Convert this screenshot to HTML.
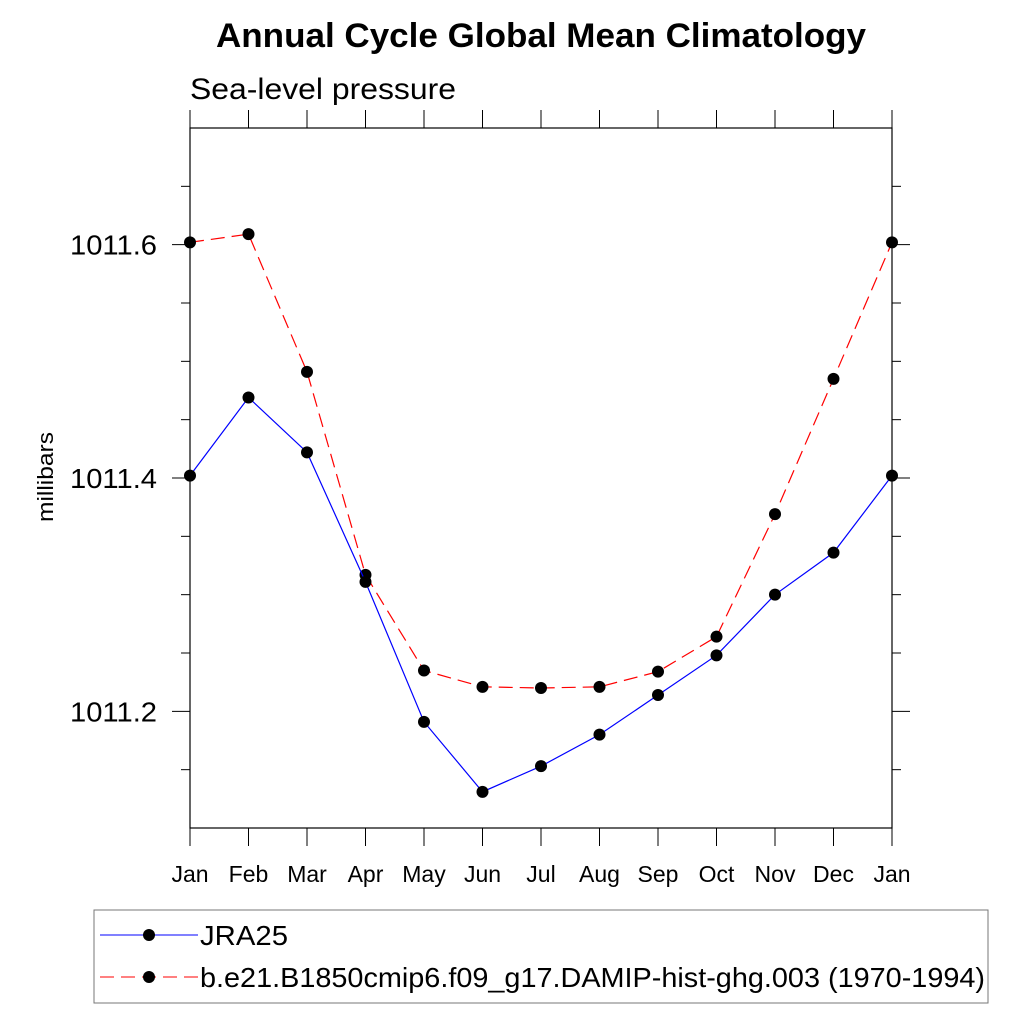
<!DOCTYPE html>
<html><head><meta charset="utf-8"><style>
body{margin:0;background:#fff}
svg{display:block;font-family:"Liberation Sans",sans-serif}
</style></head><body>
<svg id="c" width="1024" height="1024" viewBox="0 0 1024 1024">
<text x="216" y="47" font-size="34" font-weight="bold" textLength="650" lengthAdjust="spacingAndGlyphs">Annual Cycle Global Mean Climatology</text>
<text x="190" y="99" font-size="30" textLength="266" lengthAdjust="spacingAndGlyphs">Sea-level pressure</text>
<text transform="translate(53,477) rotate(-90)" text-anchor="middle" font-size="22" textLength="90" lengthAdjust="spacingAndGlyphs">millibars</text>
<g id="axes"></g>
<g id="series"></g>
<g>
<rect x="94" y="910" width="894" height="93" fill="#fff" stroke="#777" stroke-width="1"/>
<g>
<line x1="100" y1="935" x2="198" y2="935" stroke="#00f" stroke-width="1"/>
<circle cx="149" cy="935" r="6" fill="#000"/>
<text x="200" y="945" font-size="28" textLength="88" lengthAdjust="spacingAndGlyphs">JRA25</text></g>
<g>
<line x1="100" y1="977" x2="198" y2="977" stroke="#f00" stroke-width="1" stroke-dasharray="14,7"/>
<circle cx="149" cy="977" r="6" fill="#000"/>
<text x="200" y="987" font-size="28" textLength="785" lengthAdjust="spacingAndGlyphs">b.e21.B1850cmip6.f09_g17.DAMIP-hist-ghg.003 (1970-1994)</text></g>
</g>
</svg>
<script>
const months=["Jan","Feb","Mar","Apr","May","Jun","Jul","Aug","Sep","Oct","Nov","Dec","Jan"];
const jra25=[1011.402,1011.469,1011.422,1011.311,1011.191,1011.131,1011.153,1011.180,1011.214,1011.248,1011.300,1011.336,1011.402];
const model=[1011.602,1011.609,1011.491,1011.317,1011.235,1011.221,1011.220,1011.221,1011.234,1011.264,1011.369,1011.485,1011.602];
const yTicks=[1011.2,1011.4,1011.6];
const yMinorTicks=[1011.15,1011.25,1011.3,1011.35,1011.45,1011.5,1011.55,1011.65];
const L=190,R=892,T=128,B=828,yMin=1011.1,yMax=1011.7;
const xs=i=>L+(R-L)*i/(months.length-1);
const ys=v=>B-(v-yMin)/(yMax-yMin)*(B-T);
const NS="http://www.w3.org/2000/svg";
function mk(tag,attrs,parent){const e=document.createElementNS(NS,tag);for(const k in attrs)e.setAttribute(k,attrs[k]);parent.appendChild(e);return e;}
const ax=document.getElementById('axes');
const fr=mk('rect',{x:L,y:T,width:R-L,height:B-T,fill:'none',stroke:'#000','stroke-width':1.2},ax);


months.forEach((m,i)=>{
 const x=xs(i);
 const t1=mk('line',{x1:x,y1:B,x2:x,y2:B+18,stroke:'#000'},ax);
 
 
 const t2=mk('line',{x1:x,y1:T,x2:x,y2:T-18,stroke:'#000'},ax);
 
 
 const tx=mk('text',{x:x,y:882,'text-anchor':'middle','font-size':23},ax);
 tx.textContent=m;
 
 
});
yTicks.forEach(v=>{
 const y=ys(v);
 const a=mk('line',{x1:L-18,y1:y,x2:L,y2:y,stroke:'#000'},ax);
 
 
 const b=mk('line',{x1:R,y1:y,x2:R+18,y2:y,stroke:'#000'},ax);
 
 
 const tx=mk('text',{x:70,y:y+10,'font-size':28,textLength:87,lengthAdjust:'spacingAndGlyphs'},ax);
 tx.textContent=v.toFixed(1);
 
 
});
yMinorTicks.forEach(v=>{
 const y=ys(v);
 const a=mk('line',{x1:L-9,y1:y,x2:L,y2:y,stroke:'#000'},ax);
 
 
 const b=mk('line',{x1:R,y1:y,x2:R+9,y2:y,stroke:'#000'},ax);
 
 
});
const sg=document.getElementById('series');
function draw(vals,color,dash,name){
 const g=mk('g',{},sg);
 
 
 const pl=mk('polyline',{points:vals.map((v,i)=>xs(i)+','+ys(v)).join(' '),fill:'none',stroke:color,'stroke-width':1.2,'stroke-dasharray':dash},g);
 
 
 vals.forEach((v,i)=>{
  const c=mk('circle',{cx:xs(i),cy:ys(v),r:6,fill:'#000'},g);
  
  
 });
}
draw(model,'#f00','14,7','model-series');
draw(jra25,'#00f','none','jra25-series');
</script>
</body></html>
